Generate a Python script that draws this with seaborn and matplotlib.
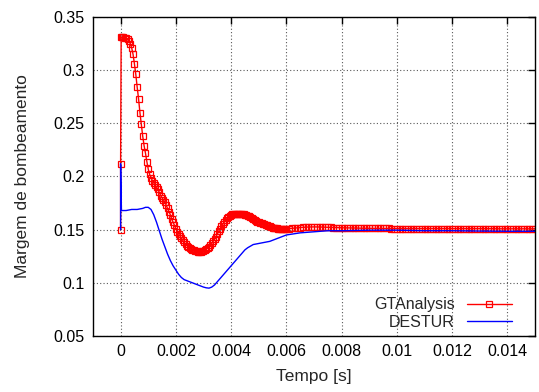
import pandas as pd
import seaborn as sns
import matplotlib.pyplot as plt
from matplotlib.ticker import FuncFormatter

# GTAnalysis series, rows of 10 samples
gt_time = [0.0, 0.0, 0.00002,
           0.00005, 0.0001, 0.00015, 0.0002, 0.00025, 0.0003, 0.00035, 0.0004, 0.00045, 0.0005,
           0.00055, 0.0006, 0.00065, 0.0007, 0.00075, 0.0008, 0.00085, 0.0009, 0.00095, 0.001,
           0.00105, 0.0011, 0.00115, 0.0012, 0.00125, 0.0013, 0.00135, 0.0014, 0.00145, 0.0015,
           0.00155, 0.0016, 0.00165, 0.0017, 0.00175, 0.0018, 0.00185, 0.0019, 0.00195, 0.002,
           0.00205, 0.0021, 0.00215, 0.0022, 0.00225, 0.0023, 0.00235, 0.0024, 0.00245, 0.0025,
           0.00255, 0.0026, 0.00265, 0.0027, 0.00275, 0.0028, 0.00285, 0.0029, 0.00295, 0.003,
           0.00305, 0.0031, 0.00315, 0.0032, 0.00325, 0.0033, 0.00335, 0.0034, 0.00345, 0.0035,
           0.00355, 0.0036, 0.00365, 0.0037, 0.00375, 0.0038, 0.00385, 0.0039, 0.00395, 0.004,
           0.00405, 0.0041, 0.00415, 0.0042, 0.00425, 0.0043, 0.00435, 0.0044, 0.00445, 0.0045,
           0.00455, 0.0046, 0.00465, 0.0047, 0.00475, 0.0048, 0.00485, 0.0049, 0.00495, 0.005,
           0.00505, 0.0051, 0.00515, 0.0052, 0.00525, 0.0053, 0.00535, 0.0054, 0.00545, 0.0055,
           0.00555, 0.0056, 0.00565, 0.0057, 0.00575, 0.0058, 0.00585, 0.0059, 0.00595, 0.006,
           0.0061, 0.0062, 0.0063, 0.0064, 0.0065, 0.0066, 0.0067, 0.0068, 0.0069, 0.007,
           0.0071, 0.0072, 0.0073, 0.0074, 0.0075, 0.0076, 0.0077, 0.0078, 0.0079, 0.008,
           0.0081, 0.0082, 0.0083, 0.0084, 0.0085, 0.0086, 0.0087, 0.0088, 0.0089, 0.009,
           0.0091, 0.0092, 0.0093, 0.0094, 0.0095, 0.0096, 0.0097, 0.0098, 0.0099, 0.01,
           0.0101, 0.0102, 0.0103, 0.0104, 0.0105, 0.0106, 0.0107, 0.0108, 0.0109, 0.011,
           0.0111, 0.0112, 0.0113, 0.0114, 0.0115, 0.0116, 0.0117, 0.0118, 0.0119, 0.012,
           0.0121, 0.0122, 0.0123, 0.0124, 0.0125, 0.0126, 0.0127, 0.0128, 0.0129, 0.013,
           0.0131, 0.0132, 0.0133, 0.0134, 0.0135, 0.0136, 0.0137, 0.0138, 0.0139, 0.014,
           0.0141, 0.0142, 0.0143, 0.0144, 0.0145, 0.0146, 0.0147, 0.0148, 0.0149, 0.015]
gt_margin = [0.150, 0.212, 0.331,
             0.331, 0.331, 0.330, 0.330, 0.329, 0.327, 0.325, 0.321, 0.315, 0.306,
             0.296, 0.284, 0.273, 0.260, 0.249, 0.238, 0.229, 0.222, 0.214, 0.207,
             0.202, 0.199, 0.196, 0.194, 0.192, 0.190, 0.188, 0.185, 0.182, 0.180,
             0.178, 0.176, 0.173, 0.170, 0.167, 0.164, 0.160, 0.157, 0.154, 0.151,
             0.148, 0.146, 0.144, 0.142, 0.140, 0.138, 0.1365, 0.135, 0.134, 0.133,
             0.132, 0.131, 0.1305, 0.130, 0.1295, 0.129, 0.129, 0.129, 0.1295, 0.130,
             0.131, 0.132, 0.133, 0.134, 0.1355, 0.137, 0.139, 0.141, 0.1435, 0.146,
             0.1485, 0.151, 0.153, 0.155, 0.157, 0.159, 0.1605, 0.162, 0.163, 0.164,
             0.1645, 0.165, 0.165, 0.165, 0.165, 0.165, 0.165, 0.165, 0.1645, 0.164,
             0.1635, 0.163, 0.1625, 0.162, 0.161, 0.160, 0.159, 0.158, 0.1575, 0.157,
             0.1565, 0.156, 0.1555, 0.155, 0.1545, 0.154, 0.1535, 0.153, 0.1525, 0.152,
             0.1518, 0.1515, 0.1512, 0.151, 0.151, 0.151, 0.151, 0.151, 0.151, 0.151,
             0.151, 0.1512, 0.1515, 0.1518, 0.152, 0.1522, 0.1524, 0.1525, 0.1526, 0.1526,
             0.1526, 0.1525, 0.1524, 0.1523, 0.1522, 0.1521, 0.152, 0.152, 0.1519, 0.1518,
             0.1517, 0.1517, 0.1516, 0.1516, 0.1515, 0.1515, 0.1514, 0.1514, 0.1513, 0.1513,
             0.1512, 0.1512, 0.1512, 0.1511, 0.1511, 0.1511, 0.1511, 0.151, 0.151, 0.151,
             0.151, 0.151, 0.151, 0.151, 0.151, 0.151, 0.151, 0.151, 0.151, 0.151,
             0.151, 0.151, 0.151, 0.151, 0.151, 0.151, 0.151, 0.151, 0.151, 0.151,
             0.151, 0.151, 0.151, 0.1509, 0.1509, 0.1509, 0.1509, 0.1509, 0.1509, 0.1509,
             0.1509, 0.1509, 0.1509, 0.1509, 0.1509, 0.1508, 0.1508, 0.1508, 0.1508, 0.1508,
             0.1508, 0.1508, 0.1508, 0.1508, 0.1508, 0.1508, 0.1508, 0.1508, 0.1508, 0.1508]

# DESTUR series
de_time = [0.0, 0.0, 0.00003, 0.0002, 0.0004, 0.0006, 0.0008, 0.0009, 0.001,
           0.0011, 0.0012, 0.0013, 0.0014, 0.0015, 0.0016, 0.0017, 0.0018,
           0.0019, 0.002, 0.0021, 0.0022, 0.0023, 0.0024, 0.0025, 0.0026,
           0.0027, 0.0028, 0.0029, 0.003, 0.0031, 0.0032, 0.0033, 0.0034,
           0.0035, 0.0036, 0.0037, 0.0038, 0.0039, 0.004, 0.0041, 0.0042,
           0.0043, 0.0044, 0.0045, 0.0046, 0.0047, 0.0048, 0.005, 0.0052,
           0.0054, 0.0056, 0.0058, 0.006, 0.0065, 0.007, 0.0075, 0.008,
           0.009, 0.01, 0.011, 0.012, 0.013, 0.014, 0.015]
de_margin = [0.150, 0.212, 0.168, 0.168, 0.169, 0.169, 0.170, 0.171, 0.171,
             0.169, 0.164, 0.157, 0.149, 0.141, 0.134, 0.127, 0.121,
             0.116, 0.112, 0.108, 0.105, 0.103, 0.102, 0.101, 0.100,
             0.099, 0.098, 0.097, 0.096, 0.0953, 0.095, 0.096, 0.098,
             0.101, 0.104, 0.107, 0.110, 0.113, 0.116, 0.119, 0.122,
             0.125, 0.128, 0.131, 0.133, 0.1345, 0.136, 0.137, 0.138,
             0.139, 0.141, 0.143, 0.145, 0.147, 0.148, 0.149, 0.149,
             0.1495, 0.1495, 0.149, 0.149, 0.1487, 0.1485, 0.1485]

x_ticks = [0, 0.002, 0.004, 0.006, 0.008, 0.01, 0.012, 0.014]
y_ticks = [0.05, 0.1, 0.15, 0.2, 0.25, 0.3, 0.35]

gt = pd.DataFrame({"t": gt_time, "m": gt_margin})
de = pd.DataFrame({"t": de_time, "m": de_margin})

sns.set_theme(style="white")
plt.rcParams["font.family"] = ["Liberation Sans", "DejaVu Sans"]

fig, ax = plt.subplots(figsize=(5.39, 3.92), dpi=100)
fig.subplots_adjust(left=0.1725, right=0.9926, top=0.9566, bottom=0.1429)

sns.lineplot(data=gt, x="t", y="m", sort=False, estimator=None, ax=ax,
             color="red", lw=1, marker="s", markersize=3.8,
             markerfacecolor="none", markeredgecolor="red", markeredgewidth=0.9,
             label="GTAnalysis")
sns.lineplot(data=de, x="t", y="m", sort=False, estimator=None, ax=ax,
             color="blue", lw=1, label="DESTUR")

ax.set_xlim(-0.001, 0.015)
ax.set_ylim(0.05, 0.35)
ax.set_xticks(x_ticks)
ax.set_yticks(y_ticks)
fmt = FuncFormatter(lambda v, p: "%g" % round(v, 6))
ax.xaxis.set_major_formatter(fmt)
ax.yaxis.set_major_formatter(fmt)

# gnuplot-like frame: dotted grid, inward ticks on all sides
ax.grid(True, color="0.35", linestyle=(0, (1, 2)), linewidth=0.8)
ax.tick_params(direction="in", top=True, right=True, length=5, width=1,
               labelsize=11.5, colors="black", pad=6)
for s in ax.spines.values():
    s.set_color("black")
    s.set_linewidth(1)

ax.set_xlabel("Tempo [s]", fontsize=12.5)
ax.set_ylabel("Margem de bombeamento", fontsize=12.5)
ax.xaxis.set_label_coords(0.5, -0.105)
ax.yaxis.set_label_coords(-0.1425, 0.5)

ax.legend(loc="lower right", bbox_to_anchor=(0.9615, 0.0), frameon=False,
          markerfirst=False, fontsize=11.5, handlelength=2.8,
          handletextpad=0.75, labelspacing=0.15, borderaxespad=0.0)

fig.savefig("out.png", dpi=100)
